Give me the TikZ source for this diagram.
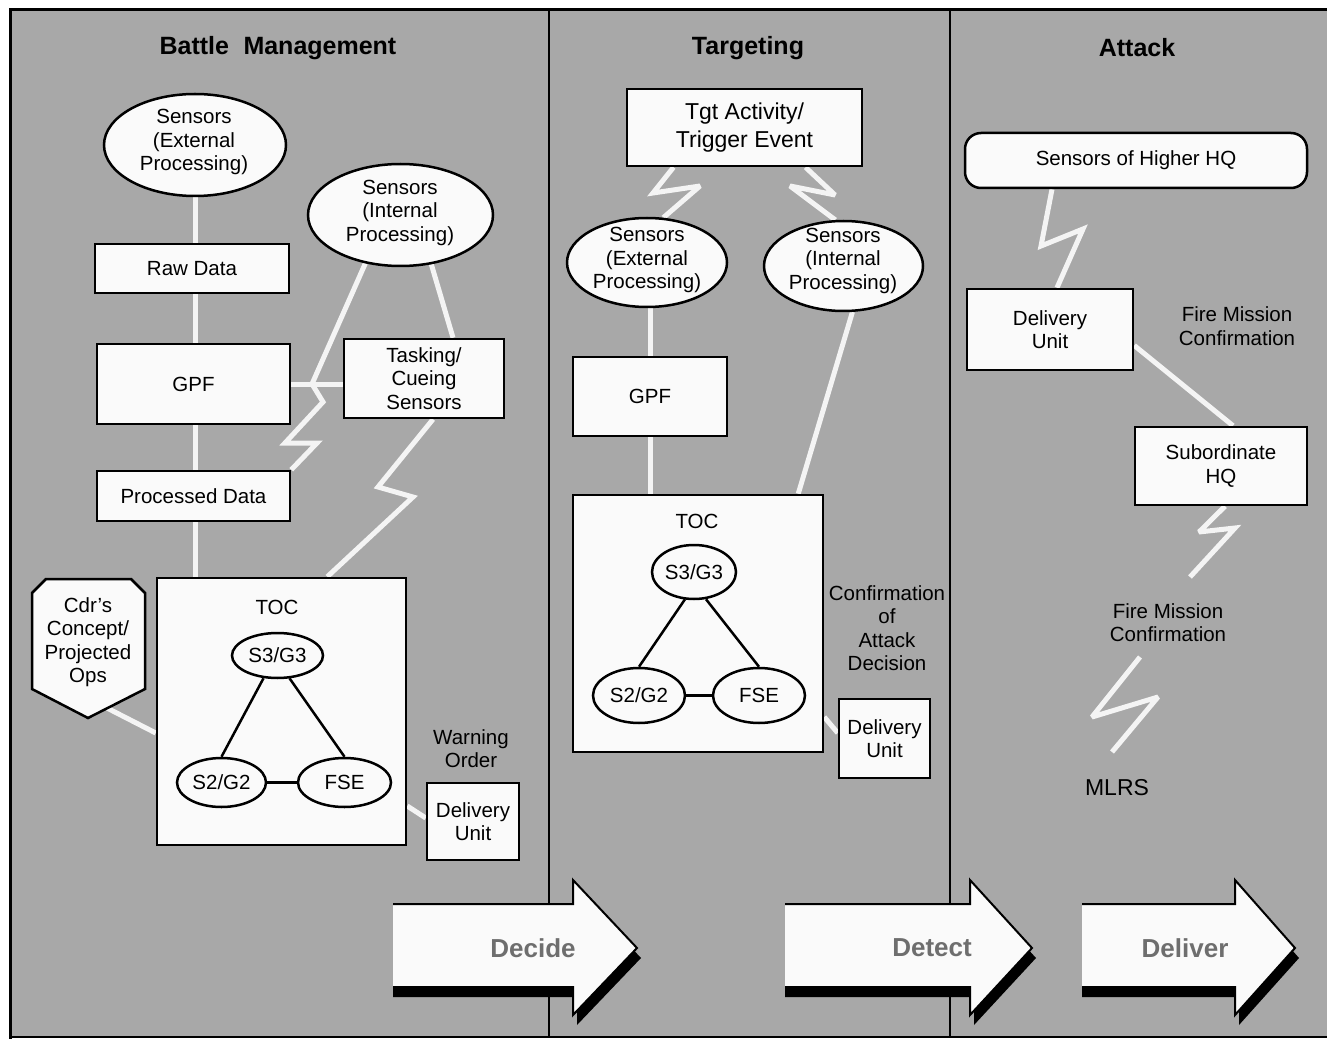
\documentclass[tikz,border=0pt]{standalone}
\usepackage{fontspec}
\setmainfont{Liberation Sans}
\usetikzlibrary{shapes.geometric,calc}
\pgfdeclarelayer{bglayer}
\pgfdeclarelayer{connlayer}
\pgfsetlayers{bglayer,connlayer,main}
\definecolor{panelgray}{HTML}{A8A8A8}
\definecolor{boxwhite}{HTML}{FAFAFA}
\definecolor{wireline}{HTML}{F4F4F4}
\definecolor{arrowtext}{HTML}{6E6E6E}
\newcommand\mynormal{\fontsize{20.5}{23.5}\selectfont}
\newcommand\mytgtfont{\fontsize{23}{28}\selectfont}
\newcommand\mytitlefont{\fontsize{25}{30}\selectfont\bfseries}
\newcommand\myarrowfont{\fontsize{26}{30}\selectfont\bfseries}
\tikzset{
  boxnode/.style={draw=black, line width=2.5pt, fill=boxwhite, inner sep=0pt, align=center, font=\mynormal},
  ellnode/.style={ellipse, draw=black, line width=2.5pt, fill=boxwhite, inner sep=0pt, align=center, font=\mynormal},
  txtnode/.style={inner sep=0pt, align=center, font=\mynormal},
  titlenode/.style={inner sep=0pt, font=\mytitlefont},
  wire/.style={draw=wireline, line width=5pt, line join=miter, miter limit=3},
  tocline/.style={draw=black, line width=2.5pt},
  divider/.style={draw=black, line width=1.4pt},
  arrowlbl/.style={inner sep=0pt, font=\myarrowfont, text=arrowtext},
  shapeline/.style={draw=black, line width=2.5pt, fill=boxwhite, line join=miter},
}
\newcommand\bigarrow[6]{%
  \fill[black] (#1,914) -- (#2+4,914) -- (#2+4,890) -- (#3+4,958) -- (#2+4,1025) -- (#2+4,997) -- (#1,997) -- cycle;
  \fill[boxwhite] (#1,904) -- (#2,904) -- (#2,880) -- (#3,948) -- (#2,1015) -- (#2,987) -- (#1,987) -- cycle;
  \draw[line width=2pt] (#1,904) -- (#2,904) -- (#2,880) -- (#3,948) -- (#2,1015) -- (#2,987) -- (#1,987);
  \node[arrowlbl] (#4) at (#5,948) {#6};
}
\begin{document}
\begin{tikzpicture}[x=1pt,y=-1pt]
\useasboundingbox (0,0) rectangle (1327,1040);
\begin{pgfonlayer}{bglayer}
  \fill[white] (0,0) rectangle (1327,1040);
  \fill[panelgray] (10,10) rectangle (1327,1037);
  \draw[divider] (549,10) -- (549,1037) (950,10) -- (950,1037);
  \draw[divider] (10,1037) -- (1327,1037);
  \draw[line width=3pt] (10,1038.5) -- (10,10) -- (1327,10);
\end{pgfonlayer}

% titles
\node[titlenode] (ttlbm) at (278,48) {Battle\hspace{0.3em} Management};
\node[titlenode] (ttltg) at (748,48) {Targeting};
\node[titlenode] (ttlat) at (1137,48) {Attack};

% ---------- Battle Management ----------
\node[ellnode, minimum width=182, minimum height=102] (bmext) at (195,145) {};
\node[txtnode] (bmextt) at (194,142) {Sensors\\(External\\Processing)};
\node[ellnode, minimum width=185, minimum height=102] (bmint) at (400.5,215) {};
\node[txtnode] (bmintt) at (400,212.5) {Sensors\\(Internal\\Processing)};
\node[boxnode, minimum width=194, minimum height=49] (bmraw) at (192,268.5) {Raw Data};
\node[boxnode, minimum width=193, minimum height=80] (bmgpf) at (193.5,384) {GPF};
\node[boxnode, minimum width=160, minimum height=79] (bmtask) at (424,378.5) {Tasking/\\Cueing\\Sensors};
\node[boxnode, minimum width=193, minimum height=50] (bmproc) at (193.5,496) {Processed Data};

\draw[shapeline] (46,579) -- (131,579) -- (145,593) -- (145,689) -- (88,718) -- (32,689) -- (32,593) -- cycle;
\node[txtnode] (cdr) at (88,642) {Cdr's\\Concept/\\Projected\\Ops};
\coordinate (cdrtip) at (107,708);

\node[boxnode, minimum width=249, minimum height=267] (bmtoc) at (281.5,711.5) {};
\node[txtnode] (bmtocl) at (277,607) {TOC};
\node[ellnode, minimum width=91, minimum height=45] (bms3) at (277.5,655.5) {S3/G3};
\node[ellnode, minimum width=89, minimum height=49] (bms2) at (221.5,782.5) {S2/G2};
\node[ellnode, minimum width=93, minimum height=49] (bmfse) at (344.5,782.5) {FSE};
\draw[tocline] ($(bms3.south)+(-14,-1)$) -- (bms2.north);
\draw[tocline] ($(bms3.south)+(12,-1)$) -- (bmfse.north);
\draw[tocline] (bms2.east) -- (bmfse.west);
\node[txtnode] (bmwarn) at (471,748.5) {Warning\\Order};
\node[boxnode, minimum width=92, minimum height=77] (bmdel) at (473,821.5) {Delivery\\Unit};

% ---------- Targeting ----------
\node[boxnode, font=\mytgtfont, minimum width=235, minimum height=77] (tgtgt) at (744.5,127.5) {Tgt Activity/\\Trigger Event};
\node[ellnode, minimum width=160, minimum height=89] (tgext) at (647,262.5) {};
\node[txtnode] (tgextt) at (647,260) {Sensors\\(External\\Processing)};
\node[ellnode, minimum width=159, minimum height=90] (tgint) at (843.5,266) {};
\node[txtnode] (tgintt) at (843,260.5) {Sensors\\(Internal\\Processing)};
\node[boxnode, minimum width=154, minimum height=79] (tggpf) at (650,396.5) {GPF};
\node[boxnode, minimum width=250, minimum height=257] (tgtoc) at (698,623.5) {};
\node[txtnode] (tgtocl) at (697,521) {TOC};
\node[ellnode, minimum width=84, minimum height=54] (tgs3) at (694,572) {S3/G3};
\node[ellnode, minimum width=92, minimum height=55] (tgs2) at (639,695.5) {S2/G2};
\node[ellnode, minimum width=92, minimum height=55] (tgfse) at (759,695.5) {FSE};
\draw[tocline] ($(tgs3.south)+(-9,-1)$) -- (tgs2.north);
\draw[tocline] ($(tgs3.south)+(12,-1)$) -- (tgfse.north);
\draw[tocline] (tgs2.east) -- (tgfse.west);
\node[txtnode] (tgconf) at (887,628) {Confirmation\\of\\Attack\\Decision};
\node[boxnode, minimum width=91, minimum height=79] (tgdel) at (884.5,738.5) {Delivery\\Unit};

% ---------- Attack ----------
\node[boxnode, rounded corners=16pt, minimum width=342, minimum height=55] (athq) at (1136,160.5) {Sensors of Higher HQ};
\node[boxnode, minimum width=166, minimum height=81] (atdel) at (1050,329.5) {Delivery\\Unit};
\node[txtnode] (atfm1) at (1237,326) {Fire Mission\\Confirmation};
\node[boxnode, minimum width=172, minimum height=78] (atsub) at (1221,466) {Subordinate\\HQ};
\node[txtnode] (atfm2) at (1168,622.5) {Fire Mission\\Confirmation};
\node[txtnode, font=\mytgtfont] (atmlrs) at (1117,788) {MLRS};
\coordinate (atb2end) at (1190,577);
\coordinate (atb3start) at (1140,657);
\coordinate (atb3end) at (1112,752);

% ---------- connectors ----------
\begin{pgfonlayer}{connlayer}
  \draw[wire] (bmext.south) -- (bmext.south |- bmtoc.north);
  \draw[wire] (bmgpf.east) -- (bmgpf.east -| bmtask.west);
  \draw[wire] (bmint.234) -- (312,384) -- (323,402) -- (285,443) -- (317,443) -- (bmproc.north east);
  \draw[wire] (bmint.302) -- ($(bmtask.north)+(29,0)$);
  \draw[wire] ($(bmtask.south)+(9,0)$) -- (378,487) -- (413,497) -- ($(bmtoc.north east)+(-80,0)$);
  \draw[wire] (cdrtip) -- (bmtoc.west |- 0,733);
  \draw[wire] (bmtoc.east |- 0,806) -- (bmdel.west |- 0,818);

  \draw[wire] (tgext.south -| tggpf.north) -- (tgtoc.north -| tggpf.north);
  \draw[wire] (tgint.281) -- ($(tgtoc.north east)+(-26,0)$);
  \draw[wire] ($(tgtgt.south)+(-71,0)$) -- (653,193) -- (700,186) -- (tgext.70);
  \draw[wire] ($(tgtgt.south)+(61,0)$) -- (835,195) -- (790,186) -- (tgint.100);
  \draw[wire] (tgtoc.east |- 0,717) -- (tgdel.west |- 0,733);

  \draw[wire] ($(athq.south)+(-84,0)$) -- (1041,246) -- (1083,229) -- ($(atdel.north)+(7,0)$);
  \draw[wire] ($(atdel.east)+(0,16)$) -- ($(atsub.north)+(12,0)$);
  \draw[wire] ($(atsub.south)+(4,0)$) -- (1199,532) -- (1235,528) -- (atb2end);
  \draw[wire] (atb3start) -- (1092,717) -- (1158,697) -- (atb3end);
\end{pgfonlayer}

% ---------- big arrows ----------
\bigarrow{393}{573}{637}{decide}{533}{Decide}
\bigarrow{785}{970}{1032}{detect}{932}{Detect}
\bigarrow{1082}{1235}{1295}{deliver}{1185}{Deliver}
\end{tikzpicture}
\end{document}
